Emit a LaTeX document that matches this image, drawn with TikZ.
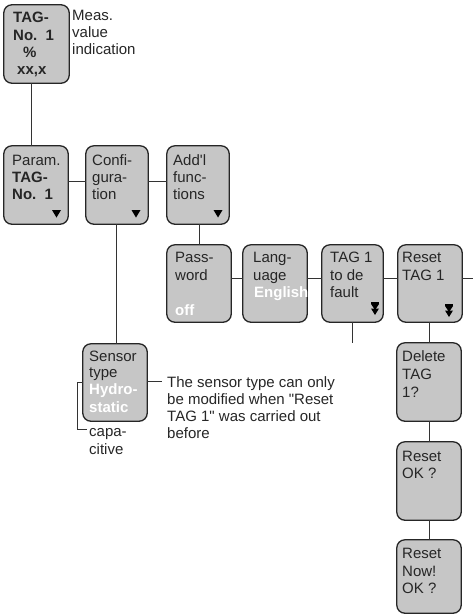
\documentclass[tikz,border=0pt]{standalone}
\usepackage{fontspec}
\setmainfont{Liberation Sans}[Ligatures=TeXOff]
\begin{document}
\begin{tikzpicture}[x=1pt,y=-1pt,
  box/.style={draw=black!85,line width=1.3pt,fill=boxgray,rounded corners=8pt},
  lbl/.style={anchor=base west,inner sep=0pt,font=\fontsize{15}{17}\selectfont,text=black!85},
  blbl/.style={lbl,font=\fontsize{15}{17}\selectfont\bfseries},
  wlbl/.style={lbl,font=\fontsize{15}{17}\selectfont\bfseries,text=white},
  conn/.style={draw=black!80,line width=0.8pt},
  tri/.style={fill=black}]
\definecolor{boxgray}{HTML}{C6C6C6}
\useasboundingbox (0,0) rectangle (473,616);
% boxes
\node[inner sep=0,minimum width=65pt,minimum height=78pt] (b1) at (36.5,44) {};
\node[inner sep=0,minimum width=64pt,minimum height=78pt] (par) at (36,185) {};
\node[inner sep=0,minimum width=62pt,minimum height=78pt] (cfg) at (117,185) {};
\node[inner sep=0,minimum width=62pt,minimum height=78pt] (add) at (198,185) {};
\node[inner sep=0,minimum width=64pt,minimum height=77pt] (pw) at (199,283.5) {};
\node[inner sep=0,minimum width=64pt,minimum height=77pt] (lang) at (275,283.5) {};
\node[inner sep=0,minimum width=61pt,minimum height=77pt] (tdf) at (352.5,283.5) {};
\node[inner sep=0,minimum width=64pt,minimum height=77pt] (rst) at (430,283.5) {};
\node[inner sep=0,minimum width=64pt,minimum height=77pt] (sen) at (115,382.5) {};
\node[inner sep=0,minimum width=64pt,minimum height=78pt] (del) at (429,382) {};
\node[inner sep=0,minimum width=64pt,minimum height=78pt] (rok) at (429,481) {};
\node[inner sep=0,minimum width=64pt,minimum height=73pt] (rnow) at (429,576.5) {};
\foreach \n in {b1,par,cfg,add,pw,lang,tdf,rst,sen,del,rok,rnow}
  \path[box] (\n.south west) rectangle (\n.north east);
% connectors
\draw[conn] (31,83) -- (31,146);
\draw[conn] (par.east |- 0,181) -- (cfg.west |- 0,181);
\draw[conn] (cfg.east |- 0,181) -- (add.west |- 0,181);
\draw[conn] (116,224) -- (116,344);
\draw[conn] (199,224) -- (199,245);
\draw[conn] (pw.east |- 0,278) -- (lang.west |- 0,278);
\draw[conn] (lang.east |- 0,278) -- (tdf.west |- 0,278);
\draw[conn] (tdf.east |- 0,278) -- (rst.west |- 0,278);
\coordinate (rightend) at (473,278);
\draw[conn] (rst.east |- 0,278) -- (rightend);
\coordinate (tdfend) at (352,343);
\draw[conn] (352,322) -- (tdfend);
\draw[conn] (429,322) -- (429,343);
\draw[conn] (429,421) -- (429,442);
\draw[conn] (429,520) -- (429,540);
\coordinate (notestart) at (162,381);
\draw[conn] (sen.east |- 0,381) -- (notestart);
\coordinate (capend) at (87,429);
\draw[conn] (sen.west |- 0,382) -- (77,382) -- (77,429) -- (capend);
% triangles
\foreach \cx in {56.5,136,218}
  \fill[tri] (\cx-4.5,210) -- (\cx+4.5,210) -- (\cx,217.5) -- cycle;
\foreach \cx/\cy in {375/302,449/304}{
  \fill[tri] (\cx-4,\cy) rectangle (\cx+4,\cy+1.6);
  \fill[tri] (\cx-4,\cy+2) -- (\cx+4,\cy+2) -- (\cx,\cy+8) -- cycle;
  \fill[tri] (\cx-4,\cy+6.5) -- (\cx+4,\cy+6.5) -- (\cx,\cy+13) -- cycle;
}
% texts
\node[blbl] at (13,22) {TAG-};
\node[blbl] at (13,40) {No.\ \ 1};
\node[blbl] at (23,57) {\%};
\node[blbl] at (17,74) {xx,x};
\node[lbl] at (72,20) {Meas.};
\node[lbl] at (72,37) {value};
\node[lbl] at (72,54) {indication};
\node[lbl] at (12,165) {Param.};
\node[blbl] at (12,182) {TAG-};
\node[blbl] at (12,199) {No.\ \ 1};
\node[lbl] at (92,165) {Confi-};
\node[lbl] at (92,182) {gura-};
\node[lbl] at (92,199) {tion};
\node[lbl] at (173,165) {Add'l};
\node[lbl] at (173,182) {func-};
\node[lbl] at (173,199) {tions};
\node[lbl] at (175,262) {Pass-};
\node[lbl] at (175,280) {word};
\node[wlbl] at (175,315) {off};
\node[lbl] at (253,262) {Lang-};
\node[lbl] at (253,280) {uage};
\node[wlbl] at (254,297) {English};
\node[lbl] at (330,262) {TAG 1};
\node[lbl] at (330,280) {to de};
\node[lbl] at (330,297) {fault};
\node[lbl] at (402,262) {Reset};
\node[lbl] at (402,280) {TAG 1};
\node[lbl] at (89,361) {Sensor};
\node[lbl] at (89,377) {type};
\node[wlbl] at (89,394) {Hydro-};
\node[wlbl] at (89,412) {static};
\node[lbl] at (167,387) {The sensor type can only};
\node[lbl] at (167,404) {be modified when "Reset};
\node[lbl] at (167,421) {TAG 1" was carried out};
\node[lbl] at (167,438) {before};
\node[lbl] at (89,436) {capa-};
\node[lbl] at (89,454) {citive};
\node[lbl] at (402,361) {Delete};
\node[lbl] at (402,379) {TAG};
\node[lbl] at (402,397) {1?};
\node[lbl] at (402,461) {Reset};
\node[lbl] at (402,478) {OK ?};
\node[lbl] at (402,558) {Reset};
\node[lbl] at (402,576) {Now!};
\node[lbl] at (402,593) {OK ?};
\end{tikzpicture}
\end{document}
